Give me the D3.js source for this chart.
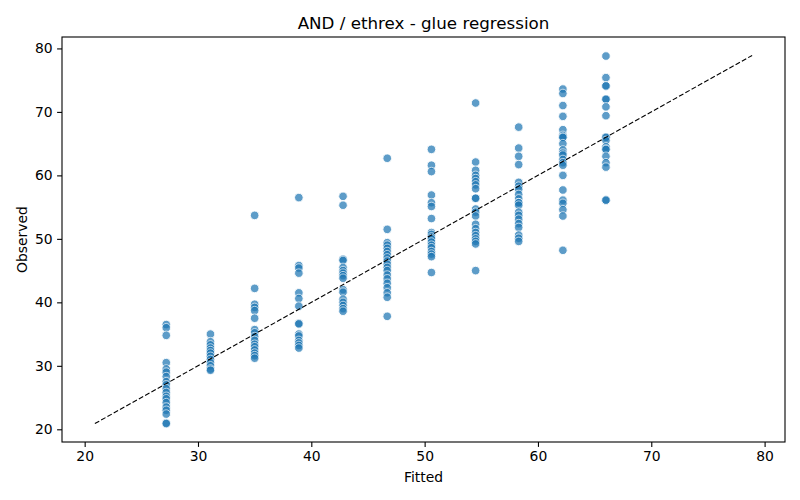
<!DOCTYPE html>
<html>
<head>
<meta charset="utf-8">
<script src="https://cdn.jsdelivr.net/npm/d3@7"></script>
<style>
  body { margin: 0; background: #fff; }
  text { font-family: "DejaVu Sans", sans-serif; fill: #000; }
</style>
</head>
<body>
<svg id="chart"></svg>
<script>
const W = 800;
const H = 500;

// fitted value of each column of points
const fitted = [27.2, 31.1, 35.0, 38.9, 42.8, 46.7, 50.6, 54.5, 58.3, 62.2, 66.0];

// observed values, one list per fitted column
const obs1 = [36.5, 36.0, 34.8, 30.5, 29.5, 29.0, 28.3, 27.5, 27.0, 26.4, 25.8, 25.2, 24.8, 24.2, 23.5, 23.0, 22.4, 21.0, 20.9];
const obs2 = [35.0, 33.8, 33.3, 32.8, 32.4, 32.0, 31.5, 31.0, 30.5, 30.0, 29.5, 29.3];
const obs3 = [53.7, 42.2, 39.7, 39.2, 38.7, 37.5, 35.7, 35.2, 34.6, 34.0, 33.4, 33.0, 32.5, 32.0, 31.6, 31.2];
const obs4 = [56.5, 45.8, 45.4, 44.6, 41.5, 40.6, 39.4, 36.7, 36.6, 35.0, 34.7, 34.0, 33.6, 33.2, 32.8];
const obs5 = [56.7, 55.3, 46.8, 46.6, 45.5, 45.0, 44.6, 44.2, 43.8, 42.0, 41.6, 40.5, 40.0, 39.5, 39.0, 38.6];
const obs6 = [62.7, 51.5, 49.4, 49.0, 48.5, 48.0, 47.5, 47.0, 46.5, 46.0, 45.5, 45.0, 44.3, 43.7, 43.0, 42.3, 41.5, 40.8, 37.8];
const obs7 = [64.1, 61.6, 60.6, 56.9, 55.7, 55.1, 53.2, 51.0, 50.7, 50.3, 50.0, 49.5, 49.0, 48.6, 48.0, 47.6, 47.2, 44.7];
const obs8 = [71.4, 62.1, 60.8, 60.0, 59.5, 59.0, 58.5, 57.9, 56.4, 56.4, 54.7, 54.2, 53.6, 52.3, 51.6, 51.0, 50.5, 50.0, 49.6, 49.2, 45.0];
const obs9 = [67.6, 64.3, 63.0, 61.7, 58.9, 58.3, 57.8, 57.0, 56.3, 55.7, 55.7, 55.3, 54.2, 53.7, 53.1, 52.4, 51.8, 50.6, 50.1, 49.6];
const obs10 = [73.6, 72.9, 71.0, 69.3, 67.2, 66.3, 66.0, 66.0, 65.0, 64.0, 63.5, 63.2, 62.5, 62.0, 61.6, 60.0, 57.7, 56.1, 55.6, 54.6, 53.6, 48.2];
const obs11 = [78.8, 75.4, 74.1, 74.1, 72.0, 72.0, 70.8, 69.4, 66.0, 66.0, 65.5, 64.5, 64.1, 64.1, 63.0, 62.0, 61.3, 56.1, 56.1];
const observed = [obs1, obs2, obs3, obs4, obs5, obs6, obs7, obs8, obs9, obs10, obs11];

const xTicks = [20, 30, 40, 50, 60, 70, 80];
const yTicks = [20, 30, 40, 50, 60, 70, 80];

const margin = { top: 37, right: 15, bottom: 58, left: 62 };

const points = [];
fitted.forEach((f, i) => observed[i].forEach(o => points.push({ x: f, y: o })));

// reference line spans the overall min..max of both
const lo = 20.9, hi = 78.9;
const pad = (hi - lo) * 0.05;

const x = d3.scaleLinear().domain([lo - pad, hi + pad]).range([margin.left, W - margin.right]);
const y = d3.scaleLinear().domain([lo - pad, hi + pad]).range([H - margin.bottom, margin.top]);

const svg = d3.select("#chart").attr("width", W).attr("height", H);

svg.append("g")
	.attr("transform", `translate(0,${H - margin.bottom})`)
	.call(d3.axisBottom(x).tickValues(xTicks).tickSize(4.9).tickPadding(4.5))
	.call(g => g.select(".domain").remove())
	.call(g => g.selectAll("text").attr("font-size", 13.9));

svg.append("g")
	.attr("transform", `translate(${margin.left},0)`)
	.call(d3.axisLeft(y).tickValues(yTicks).tickSize(4.9).tickPadding(4.5))
	.call(g => g.select(".domain").remove())
	.call(g => g.selectAll("text").attr("font-size", 13.9));

svg.selectAll(".tick line").attr("stroke", "#000").attr("stroke-width", 1.1);

svg.append("g").selectAll("circle")
	.data(points)
	.enter().append("circle")
	.attr("cx", d => x(d.x))
	.attr("cy", d => y(d.y))
	.attr("r", 4.3)
	.attr("fill", "#1f77b4")
	.attr("stroke", "#fff")
	.attr("stroke-width", 0.9)
	.attr("opacity", 0.72);

svg.append("line")
	.attr("x1", x(lo)).attr("y1", y(lo))
	.attr("x2", x(hi)).attr("y2", y(hi))
	.attr("stroke", "#000")
	.attr("stroke-width", 1.1)
	.attr("stroke-dasharray", "5,2.2");

// frame
svg.append("rect")
	.attr("x", margin.left).attr("y", margin.top)
	.attr("width", W - margin.left - margin.right)
	.attr("height", H - margin.top - margin.bottom)
	.attr("fill", "none")
	.attr("stroke", "#000")
	.attr("stroke-width", 1.1);

svg.append("text")
	.attr("x", (margin.left + W - margin.right) / 2)
	.attr("y", 29)
	.attr("text-anchor", "middle")
	.attr("font-size", 16.7)
	.text("AND / ethrex - glue regression");

svg.append("text")
	.attr("x", (margin.left + W - margin.right) / 2)
	.attr("y", 482)
	.attr("text-anchor", "middle")
	.attr("font-size", 13.9)
	.text("Fitted");

svg.append("text")
	.attr("transform", `translate(27,${(margin.top + H - margin.bottom) / 2}) rotate(-90)`)
	.attr("text-anchor", "middle")
	.attr("font-size", 13.9)
	.text("Observed");
</script>
</body>
</html>
